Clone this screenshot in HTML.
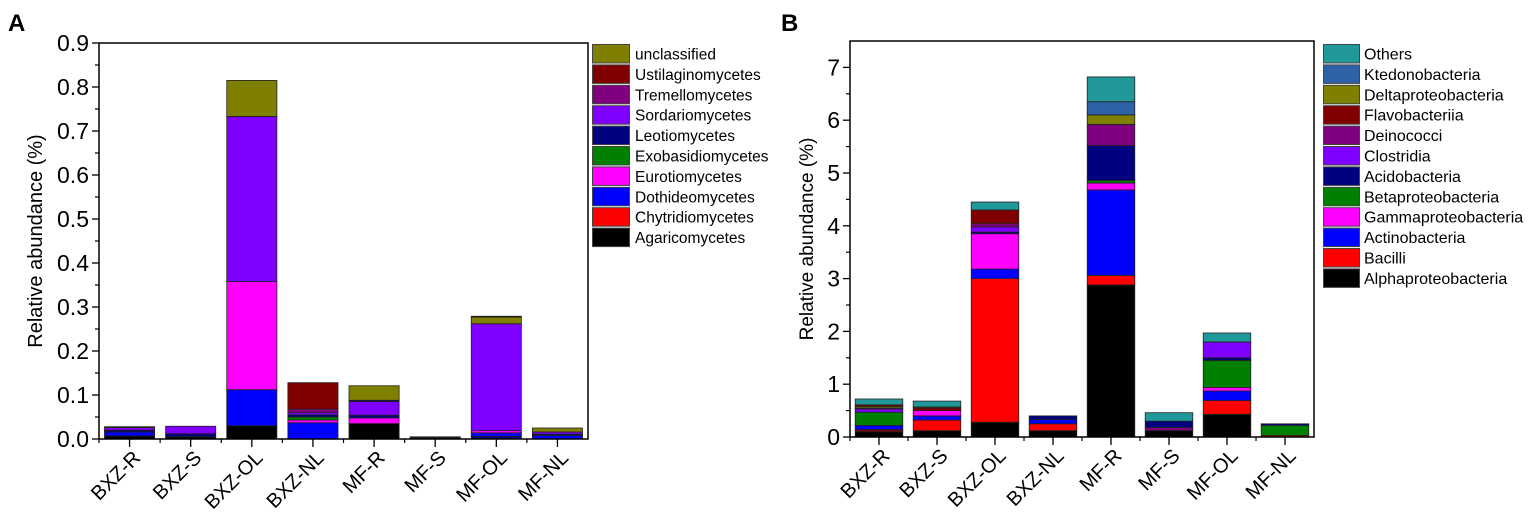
<!DOCTYPE html>
<html><head><meta charset="utf-8"><style>
html,body{margin:0;padding:0;background:#fff;}
svg{display:block;font-family:"Liberation Sans",Arial,sans-serif;}
</style></head><body>
<svg id="s" width="1535" height="521" xmlns="http://www.w3.org/2000/svg"></svg>
<script>
const S=document.getElementById('s');let h='';
const C={ol:'#808000',dr:'#800000',pu:'#800080',vi:'#8000ff',nv:'#000080',gr:'#008000',mg:'#ff00ff',bl:'#0000ff',rd:'#ff0000',bk:'#000000',tl:'#21999a',kt:'#2d62a6'};
const cats=['BXZ-R','BXZ-S','BXZ-OL','BXZ-NL','MF-R','MF-S','MF-OL','MF-NL'];
function panel(o){
 const {x0,x1,y0,y1,max,per,data,ticks,minor,lab,fs}=o;
 const w=(x1-x0)/8, bw=w*0.82;
 const Y=v=>y1-v*per;
 data.forEach((segs,i)=>{const cx=x0+w*(i+0.5);let prev=0;
  segs.forEach(([c,t])=>{h+=`<rect x="${cx-bw/2}" y="${Y(t)}" width="${bw}" height="${Math.max(0,(t-prev)*per)}" fill="${C[c]}" stroke="#222" stroke-width="0.8"/>`;prev=t;});});
 h+=`<rect x="${x0}" y="${y0}" width="${x1-x0}" height="${y1-y0}" fill="none" stroke="#000" stroke-width="1.5"/>`;
 ticks.forEach(v=>{h+=`<line x1="${x0-7}" x2="${x0}" y1="${Y(v)}" y2="${Y(v)}" stroke="#000" stroke-width="1.3"/><text x="${x0-10}" y="${Y(v)+8}" font-size="${fs}" text-anchor="end">${lab(v)}</text>`;});
 minor.forEach(v=>{h+=`<line x1="${x0-4}" x2="${x0}" y1="${Y(v)}" y2="${Y(v)}" stroke="#000" stroke-width="1.2"/>`;});
 for(let i=0;i<8;i++){const cx=x0+w*(i+0.5);
  h+=`<line x1="${cx}" x2="${cx}" y1="${y1}" y2="${y1+8}" stroke="#000" stroke-width="1.3"/><line x1="${x0+w*i}" x2="${x0+w*i}" y1="${y1}" y2="${y1+4}" stroke="#000" stroke-width="1.2"/>`;
  h+=`<text transform="translate(${cx+12},${y1+20}) rotate(-45)" font-size="20" text-anchor="end">${cats[i]}</text>`;}
}
const A=[
 [['bk',0.007],['bl',0.016],['nv',0.020],['vi',0.026],['ol',0.028]],
 [['bk',0.005],['nv',0.012],['vi',0.029]],
 [['bk',0.03],['bl',0.112],['mg',0.358],['vi',0.733],['ol',0.815]],
 [['bl',0.037],['mg',0.043],['gr',0.050],['nv',0.055],['vi',0.060],['pu',0.068],['dr',0.128]],
 [['bk',0.035],['mg',0.048],['nv',0.054],['vi',0.085],['nv',0.088],['ol',0.121]],
 [['bk',0.003],['nv',0.005]],
 [['nv',0.006],['bl',0.014],['mg',0.019],['vi',0.262],['ol',0.277],['bk',0.279]],
 [['bl',0.008],['nv',0.011],['vi',0.016],['ol',0.025]]];
panel({x0:99,x1:588,y0:43,y1:439,per:440,data:A,fs:23,
 ticks:[0,.1,.2,.3,.4,.5,.6,.7,.8,.9],minor:[.05,.15,.25,.35,.45,.55,.65,.75,.85],lab:v=>v.toFixed(1)});
const B=[
 [['bk',0.1],['dr',0.14],['bl',0.22],['gr',0.47],['vi',0.53],['pu',0.55],['ol',0.58],['dr',0.61],['tl',0.72]],
 [['bk',0.12],['rd',0.32],['bl',0.40],['mg',0.50],['dr',0.55],['ol',0.57],['tl',0.68]],
 [['bk',0.28],['rd',3.0],['bl',3.18],['mg',3.85],['nv',3.88],['vi',3.98],['pu',4.04],['dr',4.30],['tl',4.45]],
 [['bk',0.12],['rd',0.25],['bl',0.33],['nv',0.40]],
 [['bk',2.88],['rd',3.06],['bl',4.68],['mg',4.81],['gr',4.86],['nv',5.52],['pu',5.92],['ol',6.10],['kt',6.35],['tl',6.82]],
 [['bk',0.12],['pu',0.18],['nv',0.30],['tl',0.46]],
 [['bk',0.43],['rd',0.69],['bl',0.87],['mg',0.94],['gr',1.45],['nv',1.50],['vi',1.80],['tl',1.97]],
 [['rd',0.03],['gr',0.22],['nv',0.25]]];
panel({x0:850,x1:1314,y0:41,y1:437,per:52.8,data:B,fs:23,
 ticks:[0,1,2,3,4,5,6,7],minor:[.5,1.5,2.5,3.5,4.5,5.5,6.5],lab:v=>v});
h+=`<text x="8" y="31" font-size="24" font-weight="bold">A</text><text x="781" y="31" font-size="24" font-weight="bold">B</text>`;
h+=`<text transform="translate(42,241) rotate(-90)" font-size="20" text-anchor="middle">Relative abundance (%)</text>`;
h+=`<text transform="translate(813,239) rotate(-90)" font-size="19" text-anchor="middle">Relative abundance (%)</text>`;
const LA=[['ol','unclassified'],['dr','Ustilaginomycetes'],['pu','Tremellomycetes'],['vi','Sordariomycetes'],['nv','Leotiomycetes'],['gr','Exobasidiomycetes'],['mg','Eurotiomycetes'],['bl','Dothideomycetes'],['rd','Chytridiomycetes'],['bk','Agaricomycetes']];
LA.forEach(([c,t],i)=>{const y=44+i*20.4;h+=`<rect x="592.5" y="${y+0.5}" width="37" height="18.5" fill="${C[c]}" stroke="#444" stroke-width="1"/><text x="635" y="${y+15.5}" font-size="15.5">${t}</text>`;});
const LB=[['tl','Others'],['kt','Ktedonobacteria'],['ol','Deltaproteobacteria'],['dr','Flavobacteriia'],['pu','Deinococci'],['vi','Clostridia'],['nv','Acidobacteria'],['gr','Betaproteobacteria'],['mg','Gammaproteobacteria'],['bl','Actinobacteria'],['rd','Bacilli'],['bk','Alphaproteobacteria']];
LB.forEach(([c,t],i)=>{const y=44+i*20.4;h+=`<rect x="1323.5" y="${y+0.5}" width="36" height="18.5" fill="${C[c]}" stroke="#444" stroke-width="1"/><text x="1364" y="${y+15.5}" font-size="16">${t}</text>`;});
S.innerHTML=h;
</script>
</body></html>
